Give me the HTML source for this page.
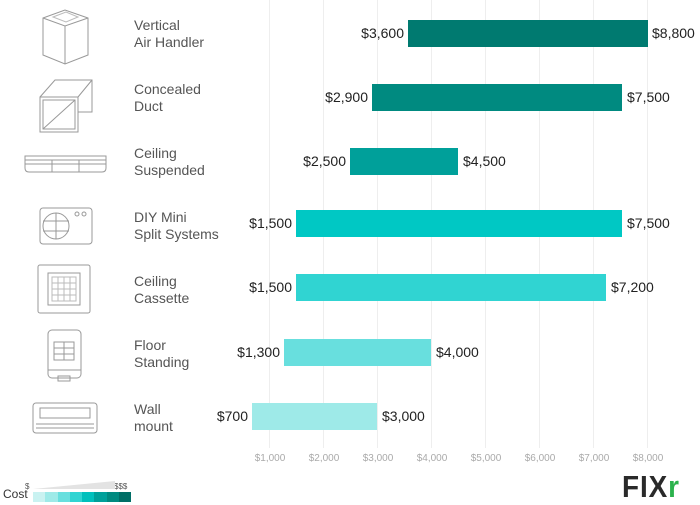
<!DOCTYPE html>
<html><head><style>
body{margin:0;width:700px;height:505px;background:#fff;font-family:"Liberation Sans",sans-serif;overflow:hidden;position:relative}
.lab{position:absolute;left:134px;font-size:14px;line-height:17px;color:#555}
.v{position:absolute;font-size:14px;color:#222;line-height:27px}
.bar{position:absolute;height:27px}
.t{position:absolute;top:453px;font-size:10px;color:#aaa;width:60px;text-align:center}
</style></head><body>
<svg width="700" height="505" style="position:absolute;left:0;top:0" fill="none" stroke="#999" stroke-width="1">
<g stroke="#eee">
<line x1="269.5" y1="0" x2="269.5" y2="448"/><line x1="323.5" y1="0" x2="323.5" y2="448"/><line x1="377.5" y1="0" x2="377.5" y2="448"/><line x1="431.5" y1="0" x2="431.5" y2="448"/><line x1="485.5" y1="0" x2="485.5" y2="448"/><line x1="539.5" y1="0" x2="539.5" y2="448"/><line x1="593.5" y1="0" x2="593.5" y2="448"/><line x1="647.5" y1="0" x2="647.5" y2="448"/>
</g>
<!-- icon1 -->
<path d="M43 18 L65 10 L88 18 L88 55 L65 64 L43 55 Z M43 18 L65 26 L88 18 M65 26 L65 64"/>
<path d="M53 17 L66 12 L78 17 L66 22 Z" stroke="#bbb"/>
<!-- icon2 -->
<rect x="40" y="97" width="38" height="35"/><rect x="43" y="100" width="32" height="29"/>
<path d="M40 97 L55 80 L92 80 L92 112 L78 112 M43 129 L75 100 M78 97 L92 80"/>
<!-- icon3 -->
<path d="M25 156 H106 V168 Q106 172 102 172 H29 Q25 172 25 168 Z M25 160 H106 M25 164 H106 M52 160 V172 M79 160 V172"/>
<!-- icon4 -->
<rect x="40" y="208" width="52" height="36" rx="3"/><circle cx="56" cy="226" r="13"/>
<path d="M43 221 H69 M43 231 H69 M56 213 V239"/><circle cx="77" cy="214" r="2"/><circle cx="84" cy="214" r="2"/>
<!-- icon5 -->
<rect x="38" y="265" width="52" height="48" rx="2"/><rect x="48" y="273" width="32" height="32"/>
<path d="M52 277 H76 V301 H52 Z M52 283 H76 M52 289 H76 M52 295 H76 M58 277 V301 M64 277 V301 M70 277 V301" stroke="#bbb"/>
<!-- icon6 -->
<rect x="48" y="330" width="33" height="48" rx="4"/><rect x="54" y="342" width="20" height="18"/>
<path d="M54 348 H74 M54 354 H74 M64 342 V360 M48 370 H81"/><rect x="58" y="376" width="12" height="5"/>
<!-- icon7 -->
<rect x="33" y="403" width="64" height="30" rx="3"/><rect x="40" y="408" width="50" height="10"/>
<path d="M36 424 H94 M36 428 H94"/>
</svg>
<div class="lab" style="top:17px">Vertical<br>Air Handler</div>
<div class="lab" style="top:81px">Concealed<br>Duct</div>
<div class="lab" style="top:145px">Ceiling<br>Suspended</div>
<div class="lab" style="top:209px">DIY Mini<br>Split Systems</div>
<div class="lab" style="top:273px">Ceiling<br>Cassette</div>
<div class="lab" style="top:337px">Floor<br>Standing</div>
<div class="lab" style="top:401px">Wall<br>mount</div>

<div class="bar" style="left:408px;width:240px;top:20px;background:#007a70"></div>
<div class="bar" style="left:372px;width:250px;top:84px;background:#008a80"></div>
<div class="bar" style="left:350px;width:108px;top:148px;background:#00a09a"></div>
<div class="bar" style="left:296px;width:326px;top:210px;background:#00c8c4"></div>
<div class="bar" style="left:296px;width:310px;top:274px;background:#30d4d2"></div>
<div class="bar" style="left:284px;width:147px;top:339px;background:#68dfde"></div>
<div class="bar" style="left:252px;width:125px;top:403px;background:#9eeae8"></div>

<div class="v" style="right:296px;top:20px">$3,600</div><div class="v" style="left:652px;top:20px">$8,800</div>
<div class="v" style="right:332px;top:84px">$2,900</div><div class="v" style="left:627px;top:84px">$7,500</div>
<div class="v" style="right:354px;top:148px">$2,500</div><div class="v" style="left:463px;top:148px">$4,500</div>
<div class="v" style="right:408px;top:210px">$1,500</div><div class="v" style="left:627px;top:210px">$7,500</div>
<div class="v" style="right:408px;top:274px">$1,500</div><div class="v" style="left:611px;top:274px">$7,200</div>
<div class="v" style="right:420px;top:339px">$1,300</div><div class="v" style="left:436px;top:339px">$4,000</div>
<div class="v" style="right:452px;top:403px">$700</div><div class="v" style="left:382px;top:403px">$3,000</div>

<div class="t" style="left:240px">$1,000</div><div class="t" style="left:294px">$2,000</div><div class="t" style="left:348px">$3,000</div><div class="t" style="left:402px">$4,000</div><div class="t" style="left:456px">$5,000</div><div class="t" style="left:510px">$6,000</div><div class="t" style="left:564px">$7,000</div><div class="t" style="left:618px">$8,000</div>

<div style="position:absolute;left:3px;top:487px;font-size:12px;color:#333">Cost</div>
<div style="position:absolute;left:25px;top:482px;font-size:8px;color:#555">$</div>
<div style="position:absolute;left:114px;top:482px;font-size:8px;color:#555">$$$</div>
<svg style="position:absolute;left:33px;top:481px" width="82" height="9"><polygon points="0,8 82,8 82,0" fill="#e3e3e3"/></svg>
<div style="position:absolute;left:33px;top:492px;height:10px;width:98px;display:flex">
<span style="flex:1;background:#c9f2f1"></span><span style="flex:1;background:#9eeae8"></span><span style="flex:1;background:#68dfde"></span><span style="flex:1;background:#30d4d2"></span><span style="flex:1;background:#00c0bc"></span><span style="flex:1;background:#00a09a"></span><span style="flex:1;background:#008a80"></span><span style="flex:1;background:#006e66"></span>
</div>
<div style="position:absolute;left:622px;top:471px;font-size:31px;font-weight:bold;color:#2a2a2a;letter-spacing:1px;line-height:32px;transform:scaleX(0.9);transform-origin:left">FIX<span style="color:#2bb24c">r</span></div>
</body></html>
